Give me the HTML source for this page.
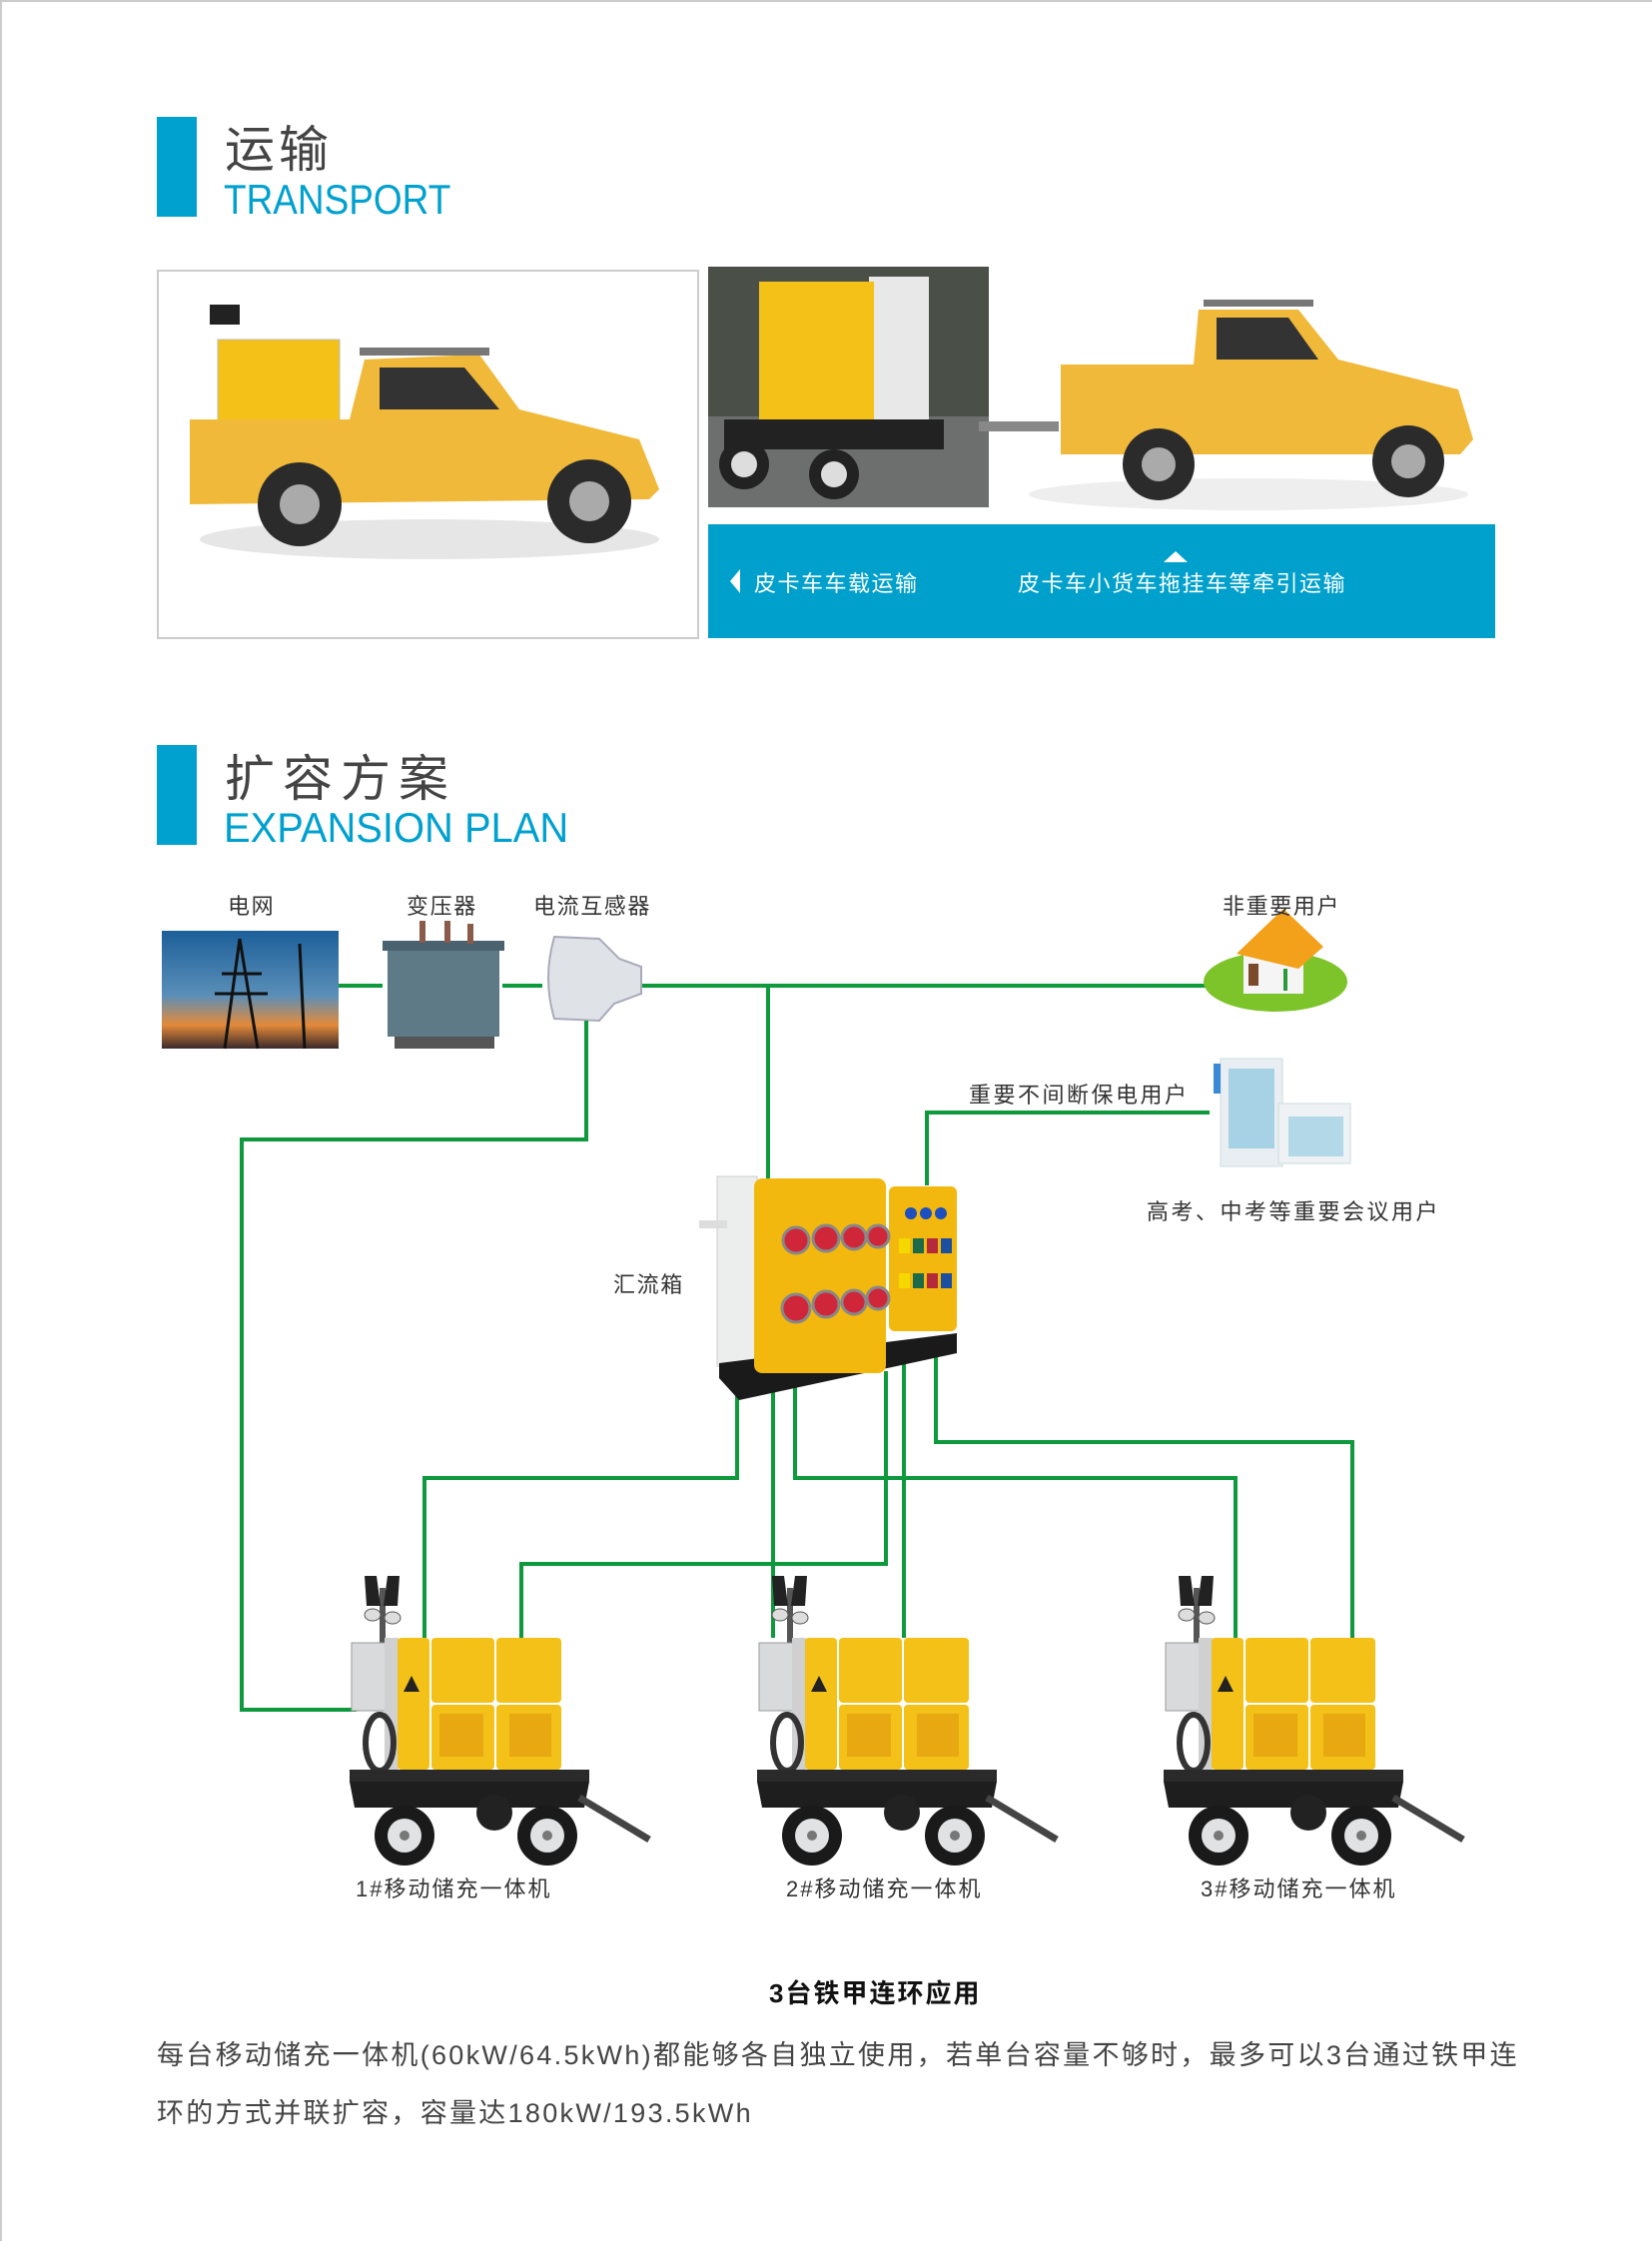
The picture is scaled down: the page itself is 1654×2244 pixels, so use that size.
<!DOCTYPE html>
<html><head><meta charset="utf-8"><style>
html,body{margin:0;padding:0;background:#fff}
body{width:1654px;height:2244px;position:relative;overflow:hidden;font-family:"Liberation Sans","Noto Sans CJK SC",sans-serif}
.t{position:absolute;white-space:nowrap;color:#333}
.l{font-size:22px;letter-spacing:1.6px}
</style></head><body>
<svg width="1654" height="2244" style="position:absolute;left:0;top:0">
<defs>
<g id="mach">
 <line x1="383" y1="1590" x2="383" y2="1700" stroke="#555" stroke-width="6"/>
 <path d="M365 1578 l12 0 l4 30 l-14 0z M388 1578 l12 0 l-2 30 l-14 0z" fill="#222"/>
 <ellipse cx="373" cy="1617" rx="8" ry="6" fill="#ddd" stroke="#555"/>
 <ellipse cx="393" cy="1620" rx="8" ry="6" fill="#ddd" stroke="#555"/>
 <rect x="352" y="1645" width="44" height="68" fill="#d8dadc" stroke="#999"/>
 <rect x="385" y="1640" width="14" height="132" fill="#d0d0d0"/>
 <rect x="398" y="1640" width="32" height="132" rx="4" fill="#f3c117"/>
 <rect x="432" y="1640" width="63" height="65" rx="4" fill="#f3c117"/>
 <rect x="497" y="1640" width="65" height="65" rx="4" fill="#f3c117"/>
 <rect x="432" y="1707" width="63" height="65" rx="4" fill="#f3c117"/>
 <rect x="497" y="1707" width="65" height="65" rx="4" fill="#f3c117"/>
 <rect x="440" y="1716" width="44" height="43" fill="#e8a812"/>
 <rect x="510" y="1716" width="42" height="43" fill="#e8a812"/>
 <polygon points="412,1678 404,1694 420,1694" fill="#222"/>
 <ellipse cx="380" cy="1745" rx="14" ry="28" fill="none" stroke="#333" stroke-width="6"/>
 <rect x="350" y="1772" width="240" height="12" fill="#2a2a2a"/>
 <path d="M350 1784 L590 1784 L585 1810 L355 1810z" fill="#1e1e1e"/>
 <line x1="580" y1="1800" x2="650" y2="1842" stroke="#444" stroke-width="7"/>
 <circle cx="405" cy="1838" r="30" fill="#1a1a1a"/><circle cx="405" cy="1838" r="17" fill="#e0e2e4"/><circle cx="405" cy="1838" r="5" fill="#777"/>
 <circle cx="548" cy="1838" r="30" fill="#1a1a1a"/><circle cx="548" cy="1838" r="17" fill="#e0e2e4"/><circle cx="548" cy="1838" r="5" fill="#777"/>
 <circle cx="495" cy="1815" r="18" fill="#222"/>
</g>
</defs>
<line x1="0" y1="1" x2="1654" y2="1" stroke="#ccc" stroke-width="2"/>
<line x1="1" y1="0" x2="1" y2="2244" stroke="#ccc" stroke-width="2"/>
<rect x="157" y="117" width="40" height="100" fill="#00a0cf"/>
<rect x="157" y="746" width="40" height="100" fill="#00a0cf"/>
<rect x="158" y="271" width="541" height="368" fill="#fff" stroke="#ccc" stroke-width="2"/>
<g>
 <ellipse cx="430" cy="540" rx="230" ry="20" fill="#e6e6e6"/>
 <rect x="218" y="340" width="122" height="110" fill="#f3c117" stroke="#bbb"/>
 <rect x="210" y="305" width="30" height="20" fill="#222"/>
 <path d="M190 420 L350 420 L365 360 L480 355 L520 410 L640 440 L660 490 L650 500 L190 505z" fill="#f0b93a"/>
 <path d="M380 368 L465 368 L500 410 L380 410z" fill="#333"/>
 <rect x="360" y="348" width="130" height="8" fill="#777"/>
 <circle cx="300" cy="505" r="42" fill="#2b2b2b"/><circle cx="300" cy="505" r="20" fill="#aaa"/>
 <circle cx="590" cy="502" r="42" fill="#2b2b2b"/><circle cx="590" cy="502" r="20" fill="#aaa"/>
</g>
<rect x="709" y="267" width="281" height="241" fill="#6d6f6e"/>
<rect x="709" y="267" width="281" height="150" fill="#4a5048"/>
<rect x="870" y="277" width="60" height="150" fill="#e8e8e8"/>
<rect x="760" y="282" width="115" height="140" fill="#f3c117"/>
<rect x="725" y="420" width="220" height="30" fill="#222"/>
<circle cx="745" cy="465" r="25" fill="#222"/><circle cx="745" cy="465" r="13" fill="#ddd"/>
<circle cx="835" cy="475" r="25" fill="#222"/><circle cx="835" cy="475" r="13" fill="#ddd"/>
<rect x="980" y="422" width="80" height="10" fill="#888"/>
<ellipse cx="1250" cy="495" rx="220" ry="16" fill="#eee"/>
<path d="M1062 365 L1195 365 L1200 310 L1300 310 L1340 360 L1460 390 L1475 440 L1462 455 L1062 455z" fill="#f0b93a"/>
<path d="M1218 318 L1290 318 L1320 360 L1218 360z" fill="#333"/>
<rect x="1205" y="300" width="110" height="7" fill="#777"/>
<circle cx="1160" cy="465" r="36" fill="#2b2b2b"/><circle cx="1160" cy="465" r="17" fill="#aaa"/>
<circle cx="1410" cy="462" r="36" fill="#2b2b2b"/><circle cx="1410" cy="462" r="17" fill="#aaa"/>
<rect x="709" y="525" width="788" height="114" fill="#00a0cc"/>
<polygon points="741,570 741,594 731,582" fill="#fff"/>
<polygon points="1177,552 1189,563 1165,563" fill="#fff"/>
<defs><linearGradient id="sky" x1="0" y1="0" x2="0" y2="1"><stop offset="0" stop-color="#1d5f9a"/><stop offset="0.55" stop-color="#5a8fb8"/><stop offset="0.8" stop-color="#e48a3a"/><stop offset="1" stop-color="#3a2a2a"/></linearGradient></defs>
<rect x="162" y="932" width="177" height="118" fill="url(#sky)"/>
<path d="M240 940 L225 1050 M240 940 L258 1050 M222 975 L262 975 M215 995 L268 995 M300 945 L305 1050" stroke="#111" stroke-width="3" fill="none"/>
<rect x="388" y="950" width="112" height="88" fill="#5d7a86"/>
<rect x="383" y="942" width="122" height="10" fill="#4a6270"/>
<rect x="420" y="922" width="6" height="22" fill="#8a5a4a"/><rect x="445" y="922" width="6" height="22" fill="#8a5a4a"/><rect x="468" y="925" width="6" height="20" fill="#8a5a4a"/>
<rect x="395" y="1038" width="100" height="12" fill="#555"/>
<path d="M555 938 L600 940 L620 960 L642 968 L642 995 L615 1005 L600 1022 L555 1020 Q543 980 555 938z" fill="#dfe3e8" stroke="#aab" stroke-width="2"/>
<g stroke="#0e9a3c" stroke-width="4" fill="none">
 <line x1="339" y1="987" x2="383" y2="987"/>
 <line x1="503" y1="987" x2="543" y2="987"/>
 <line x1="643" y1="987" x2="1208" y2="987"/>
 <polyline points="769,987 769,1180"/>
 <polyline points="587,1022 587,1141 242,1141 242,1712 357,1712"/>
 <polyline points="1211,1114 928,1114 928,1187"/>
 <polyline points="738,1358 738,1480 425,1480 425,1640"/>
 <polyline points="774,1373 774,1640"/>
 <polyline points="796,1373 796,1480 1237,1480 1237,1640"/>
 <polyline points="887,1373 887,1566 522,1566 522,1640"/>
 <polyline points="905,1360 905,1640"/>
 <polyline points="937,1345 937,1444 1354,1444 1354,1640"/>
</g>
<ellipse cx="1277" cy="983" rx="72" ry="30" fill="#7cc42a"/>
<rect x="1245" y="950" width="60" height="45" fill="#f5f5f5"/>
<polygon points="1238,955 1285,910 1325,948 1300,970" fill="#f3a01a"/>
<rect x="1250" y="965" width="10" height="22" fill="#7a4a2a"/>
<rect x="1285" y="970" width="4" height="22" fill="#2a9a3a"/>
<rect x="1222" y="1060" width="62" height="108" fill="#e8eef2" stroke="#cdd"/>
<rect x="1280" y="1105" width="72" height="60" fill="#eef2f4" stroke="#cdd"/>
<rect x="1215" y="1065" width="7" height="30" fill="#3a8ad8"/>
<g fill="#8cc6e0"><rect x="1230" y="1070" width="46" height="80" opacity="0.7"/><rect x="1290" y="1118" width="55" height="40" opacity="0.6"/></g>
<rect x="718" y="1178" width="40" height="190" fill="#eceeee" stroke="#ccc"/>
<rect x="700" y="1222" width="28" height="8" fill="#ddd"/>
<path d="M720 1365 L958 1335 L958 1355 L740 1402 L720 1380z" fill="#1a1a1a"/>
<rect x="755" y="1180" width="132" height="195" rx="8" fill="#f3b80e"/>
<rect x="890" y="1188" width="68" height="145" rx="6" fill="#f3b80e"/>
<g fill="#d0263a" stroke="#888" stroke-width="3">
 <circle cx="797" cy="1242" r="13"/><circle cx="827" cy="1240" r="13"/><circle cx="855" cy="1239" r="12"/><circle cx="879" cy="1238" r="11"/>
 <circle cx="797" cy="1310" r="14"/><circle cx="827" cy="1306" r="13"/><circle cx="855" cy="1304" r="12"/><circle cx="879" cy="1300" r="11"/>
</g>
<g><circle cx="912" cy="1215" r="6" fill="#1d4fbf"/><circle cx="927" cy="1215" r="6" fill="#1d4fbf"/><circle cx="942" cy="1215" r="6" fill="#1d4fbf"/>
<rect x="900" y="1240" width="11" height="15" fill="#f5d800"/><rect x="914" y="1240" width="11" height="15" fill="#1b6a4a"/><rect x="928" y="1240" width="11" height="15" fill="#b52a3a"/><rect x="942" y="1240" width="11" height="15" fill="#1d4fa0"/>
<rect x="900" y="1275" width="11" height="15" fill="#f5d800"/><rect x="914" y="1275" width="11" height="15" fill="#1b6a4a"/><rect x="928" y="1275" width="11" height="15" fill="#b52a3a"/><rect x="942" y="1275" width="11" height="15" fill="#1d4fa0"/></g>
<use href="#mach"/>
<use href="#mach" x="408"/>
<use href="#mach" x="815"/>
</svg>
<div class="t" style="left:225px;top:110px;font-size:50px;color:#444;letter-spacing:4px">运输</div>
<div class="t" style="left:224px;top:176px;font-size:42px;color:#00a0cf;transform:scaleX(0.88);transform-origin:0 0">TRANSPORT</div>
<div class="t" style="left:225px;top:740px;font-size:50px;color:#444;letter-spacing:8px">扩容方案</div>
<div class="t" style="left:224px;top:805px;font-size:42px;color:#00a0cf;transform:scaleX(0.95);transform-origin:0 0">EXPANSION PLAN</div>
<div class="t" style="left:755px;top:567px;font-size:22px;color:#fff;letter-spacing:1.5px">皮卡车车载运输</div>
<div class="t" style="left:1019px;top:567px;font-size:22px;color:#fff;letter-spacing:1.5px">皮卡车小货车拖挂车等牵引运输</div>
<div class="t l" style="left:228px;top:890px">电网</div>
<div class="t l" style="left:407px;top:890px">变压器</div>
<div class="t l" style="left:534px;top:890px">电流互感器</div>
<div class="t l" style="left:1224px;top:890px">非重要用户</div>
<div class="t l" style="left:970px;top:1079px;letter-spacing:2.5px">重要不间断保电用户</div>
<div class="t l" style="left:1148px;top:1196px;letter-spacing:2.5px">高考、中考等重要会议用户</div>
<div class="t l" style="left:614px;top:1269px">汇流箱</div>
<div class="t l" style="left:356px;top:1874px;letter-spacing:2px">1#移动储充一体机</div>
<div class="t l" style="left:787px;top:1874px;letter-spacing:2px">2#移动储充一体机</div>
<div class="t l" style="left:1202px;top:1874px;letter-spacing:2px">3#移动储充一体机</div>
<div class="t" style="left:770px;top:1976px;font-size:26px;font-weight:bold;color:#111;letter-spacing:2px">3台铁甲连环应用</div>
<div class="t" style="left:157px;top:2036px;font-size:27px;color:#444;letter-spacing:2.3px">每台移动储充一体机(60kW/64.5kWh)都能够各自独立使用，若单台容量不够时，最多可以3台通过铁甲连</div>
<div class="t" style="left:157px;top:2094px;font-size:27px;color:#444;letter-spacing:2.3px">环的方式并联扩容，容量达180kW/193.5kWh</div>
</body></html>
